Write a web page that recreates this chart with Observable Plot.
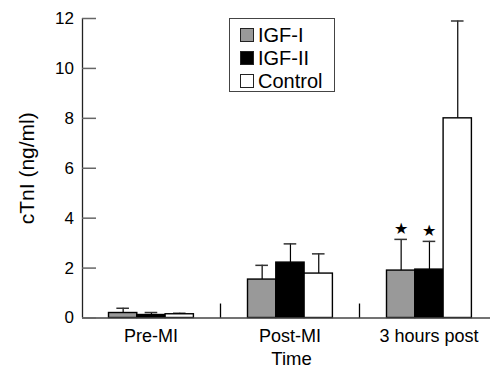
<!DOCTYPE html>
<html>
<head>
<meta charset="utf-8">
<script src="https://cdn.jsdelivr.net/npm/d3@7"></script>
<script src="https://cdn.jsdelivr.net/npm/@observablehq/plot@0.6"></script>
<style>
  html, body { margin: 0; padding: 0; background: #fff; }
  body { width: 490px; height: 368px; overflow: hidden; font-family: "Liberation Sans", Arial, sans-serif; }
  #wrap { position: relative; width: 490px; height: 368px; }
  #legend { position: absolute; left: 229px; top: 18px; width: 106px; height: 74px; border: 1px solid #444; box-sizing: border-box; background: #fff; }
  .row { position: absolute; left: 10px; height: 14px; display: flex; align-items: center; }
  .sw { width: 14px; height: 14px; box-sizing: border-box; border: 1px solid #222; margin-right: 4px; flex: none; }
  .lab { font-size: 20px; line-height: 14px; color: #000; white-space: nowrap; }
</style>
</head>
<body>
<div id="wrap"></div>
<script>
// ---- data ----
const groups = ["Pre-MI", "Post-MI", "3 hours post"];
const series = ["IGF-I", "IGF-II", "Control"];
const igf1 = [0.2, 1.54, 1.9];
const igf1Err = [0.19, 0.57, 1.25];
const igf2 = [0.12, 2.22, 1.94];
const igf2Err = [0.1, 0.75, 1.13];
const control = [0.15, 1.78, 8.0];
const controlErr = [0.04, 0.79, 3.9];
const sigIgf1 = [false, false, true];
const sigIgf2 = [false, false, true];
const sigControl = [false, false, false];
const yTicks = [0, 2, 4, 6, 8, 10, 12];
const xLabel = "Time";
const yLabel = "cTnI (ng/ml)";
const colors = ["#999999", "#000000", "#ffffff"];

const values = [igf1, igf2, control];
const errs = [igf1Err, igf2Err, controlErr];
const sigs = [sigIgf1, sigIgf2, sigControl];
const rows = [];
series.forEach((s, si) => groups.forEach((g, gi) => rows.push({
  group: g, series: s, si, value: values[si][gi], err: errs[si][gi], sig: sigs[si][gi]
})));

// ---- layout (pixels) ----
const W = 490, H = 368;
const band = 139, barW = 28.3, first = 27.5, capHalf = 6.3;
const barL = si => first + barW * si;
const barR = si => band - (first + barW * (si + 1));
const barC = si => first + barW * (si + 0.5);

const marks = [];
series.forEach((s, si) => {
  const d = rows.filter(r => r.si === si);
  marks.push(Plot.ruleX(d, {x: "group", y1: "value", y2: r => r.value + r.err, dx: barC(si) - band / 2, stroke: "#000", strokeWidth: 1.2}));
  marks.push(Plot.tickY(d, {x: "group", y: r => r.value + r.err, insetLeft: barC(si) - capHalf, insetRight: band - barC(si) - capHalf, stroke: "#333", strokeWidth: 1.5}));
  marks.push(Plot.barY(d, {x: "group", y: "value", fill: "series", stroke: "#000", strokeWidth: 1.4, insetLeft: barL(si), insetRight: barR(si)}));
  marks.push(Plot.text(d.filter(r => r.sig), {x: "group", y: r => r.value + r.err, text: () => "★", dx: barC(si) - band / 2, dy: -11, fontSize: 16, fill: "#000"}));
});

const chart = Plot.plot({
  width: W,
  height: H,
  marginLeft: 82,
  marginRight: 0,
  marginTop: 18,
  marginBottom: 50.5,
  style: {fontFamily: "'Liberation Sans', Arial, sans-serif", color: "#000", background: "#fff", overflow: "visible"},
  x: {type: "band", domain: groups, range: [81, 81 + 3 * band], padding: 0, axis: null},
  y: {domain: [0, 12], axis: null},
  color: {domain: series, range: colors},
  marks: [
    ...marks,
    Plot.ruleY([0], {stroke: "#444", strokeWidth: 1.3}),
    Plot.ruleX([groups[0]], {x: d => d, dx: -band / 2 + 1, y1: 0, y2: 12, stroke: "#222", strokeWidth: 1.3}),
    Plot.ruleX(groups.slice(0, 2), {x: d => d, dx: band / 2, y1: 0, y2: 0.56, stroke: "#000", strokeWidth: 1.3}),
    Plot.tickY(yTicks, {y: d => d, insetRight: W - 96, stroke: "#666", strokeWidth: 1.5}),
    Plot.axisX({tickSize: 0, tickPadding: 11, fontSize: 18, label: null}),
    Plot.axisY({ticks: yTicks, tickSize: 0, tickPadding: 8.5, fontSize: 17, label: null}),
    Plot.text([xLabel], {frameAnchor: "bottom", textAnchor: "middle", lineAnchor: "middle", dx: 5, dy: 41.5, fontSize: 18.5, fill: "#000"}),
    Plot.text([yLabel], {frameAnchor: "left", textAnchor: "middle", lineAnchor: "middle", dx: -55, rotate: -90, fontSize: 21, fill: "#000"})
  ]
});

const wrap = document.getElementById("wrap");
wrap.appendChild(chart);

// legend
const legend = document.createElement("div");
legend.id = "legend";
const rowTops = [8.5, 32, 55];
series.forEach((s, i) => {
  const r = document.createElement("div");
  r.className = "row";
  r.style.top = rowTops[i] + "px";
  const sw = document.createElement("div");
  sw.className = "sw";
  sw.style.background = colors[i];
  const lab = document.createElement("span");
  lab.className = "lab";
  lab.textContent = s;
  r.appendChild(sw);
  r.appendChild(lab);
  legend.appendChild(r);
});
wrap.appendChild(legend);
</script>
</body>
</html>
